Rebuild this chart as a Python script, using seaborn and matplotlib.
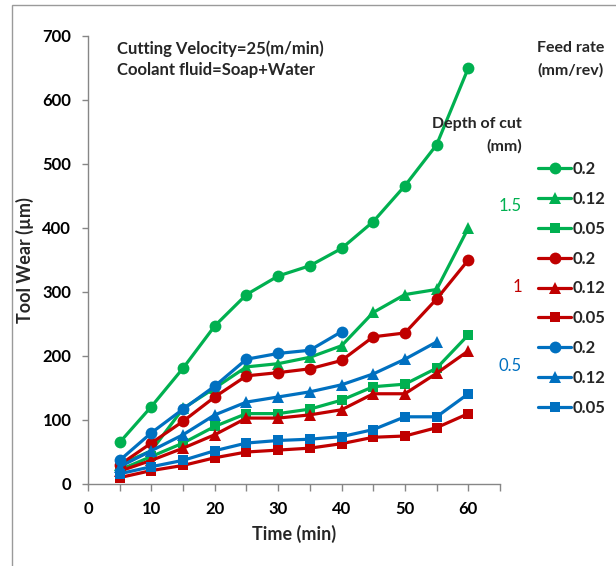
import numpy as np
import pandas as pd
import matplotlib
matplotlib.use("Agg")
import matplotlib.pyplot as plt
import seaborn as sns
from matplotlib.patches import Rectangle
from matplotlib.ticker import MultipleLocator

# time axis (min)
time = [5, 10, 15, 20, 25, 30, 35, 40, 45, 50, 55, 60]

# tool wear (um), depth of cut 1.5 mm
d15_f020 = [65, 121, 181, 247, 296, 325, 341, 368, 410, 466, 530, 650]
d15_f012 = [30, 52, 118, 150, 183, 188, 198, 216, 268, 296, 304, 400]
d15_f005 = [22, 43, 64, 90, 110, 110, 117, 131, 152, 156, 181, 233]
# depth of cut 1 mm
d10_f020 = [30, 64, 98, 136, 169, 174, 180, 193, 230, 236, 289, 350]
d10_f012 = [20, 37, 56, 77, 103, 103, 108, 116, 141, 141, 173, 208]
d10_f005 = [10, 21, 29, 41, 50, 53, 56, 63, 73, 75, 88, 110]
# depth of cut 0.5 mm (some series stop early)
d05_f020 = [37, 80, 117, 153, 195, 204, 209, 238]
d05_f012 = [27, 52, 77, 108, 128, 136, 144, 155, 172, 195, 222]
d05_f005 = [16, 27, 37, 52, 64, 68, 70, 74, 85, 105, 105, 141]

feed_labels = ["0.2", "0.12", "0.05"]
depth_labels = ["1.5", "1", "0.5"]

GREEN, RED, BLUE = "#00B050", "#C00000", "#0070C0"
GRID = "#868686"

sns.set_theme(style="white")
plt.rcParams['font.family'] = ['Lato', 'DejaVu Sans']

fig = plt.figure(figsize=(6.16, 5.66), dpi=100)
ax = fig.add_axes([88/616, 82/566, 412/616, 448/566])

series = [
    (d15_f020, GREEN, "o", 8.5), (d15_f012, GREEN, "^", 8.5), (d15_f005, GREEN, "s", 6.5),
    (d10_f020, RED, "o", 8.5), (d10_f012, RED, "^", 8.5), (d10_f005, RED, "s", 6.5),
    (d05_f020, BLUE, "o", 8.5), (d05_f012, BLUE, "^", 8.5), (d05_f005, BLUE, "s", 6.5),
]

handles = []
for vals, col, mk, ms in series:
    df = pd.DataFrame({"t": time[:len(vals)], "w": vals})
    sns.lineplot(data=df, x="t", y="w", ax=ax, color=col, marker=mk,
                 markersize=ms, markeredgewidth=0, linewidth=2.3)
    handles.append(ax.lines[-1])

ax.set_xlim(0, 65)
ax.set_ylim(0, 700)
ax.xaxis.set_major_locator(MultipleLocator(10))
ax.xaxis.set_minor_locator(MultipleLocator(5))
ax.yaxis.set_major_locator(MultipleLocator(100))
ax.set_xticks([0, 10, 20, 30, 40, 50, 60])
for s in ["top", "right"]:
    ax.spines[s].set_visible(False)
for s in ["left", "bottom"]:
    ax.spines[s].set_color(GRID)
    ax.spines[s].set_linewidth(1)
ax.tick_params(axis="both", which="both", direction="out", color=GRID,
               width=1, labelsize=12, labelcolor="black")
ax.tick_params(axis="y", length=4, pad=8, left=True)
ax.tick_params(axis="x", which="both", length=5, pad=7, bottom=True)
for lb in ax.get_xticklabels() + ax.get_yticklabels():
    lb.set_fontweight("bold")

ax.set_xlabel("Time (min)", fontsize=13, fontweight="bold", labelpad=6)
ax.set_ylabel("Tool Wear (µm)", fontsize=13, fontweight="bold", labelpad=6)

fig.text(117/616, 1-49/566, "Cutting Velocity=25(m/min)",
         fontsize=12, fontweight="bold", va="center", ha="left")
fig.text(117/616, 1-70/566, "Coolant fluid=Soap+Water",
         fontsize=12, fontweight="bold", va="center", ha="left")
fig.text(604/616, 1-48/566, "Feed rate", fontsize=11.5, fontweight="bold", ha="right", va="center")
fig.text(604/616, 1-70/566, "(mm/rev)", fontsize=11.5, fontweight="bold", ha="right", va="center")
fig.text(522/616, 1-124/566, "Depth of cut", fontsize=11.5, fontweight="bold", ha="right", va="center")
fig.text(522/616, 1-146/566, "(mm)", fontsize=11.5, fontweight="bold", ha="right", va="center")

for lab, col, yy in zip(depth_labels, [GREEN, RED, BLUE], [206, 287, 366]):
    fig.text(522/616, 1-yy/566, lab, color=col, fontsize=12, fontweight="normal",
             ha="right", va="center")

fig.legend(handles, feed_labels * 3, loc="upper left",
           bbox_to_anchor=(538/616, 1-161/566), frameon=False,
           handlelength=2.0, handletextpad=0.1,
           labelspacing=0.83, borderaxespad=0, borderpad=0,
           prop={"weight": "bold", "size": 12})

fig.add_artist(Rectangle((12/616, -0.1), 1.1, 1.1 - 5/566, transform=fig.transFigure,
                         fill=False, edgecolor="#9a9a9a", linewidth=1))

fig.savefig("out.png", dpi=100)
